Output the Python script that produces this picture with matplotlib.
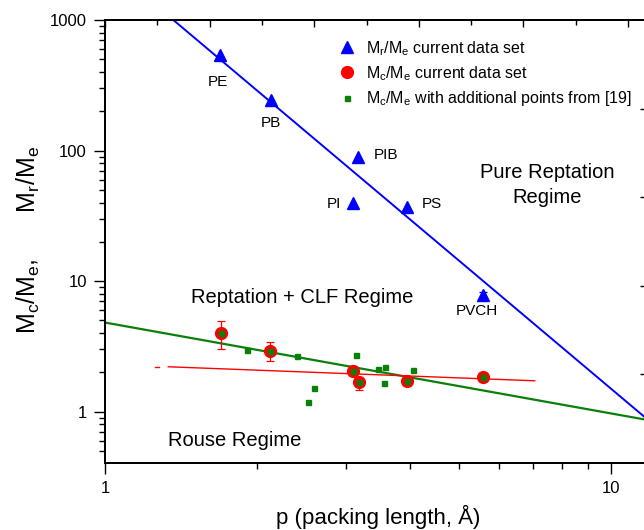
import matplotlib
matplotlib.use('Agg')
import matplotlib.pyplot as plt
from matplotlib.ticker import FixedLocator, NullFormatter, FuncFormatter, LogLocator, MultipleLocator

plt.rcParams['font.family'] = ['Liberation Sans', 'DejaVu Sans']
plt.rcParams['mathtext.fontset'] = 'custom'
plt.rcParams['mathtext.rm'] = 'Liberation Sans'
plt.rcParams['mathtext.it'] = 'Liberation Sans:italic'
plt.rcParams['mathtext.bf'] = 'Liberation Sans:bold'

# ---------------- data ----------------
polymer_names = ['PE', 'PB', 'PIB', 'PI', 'PS', 'PVCH']
mr_p = [1.688, 2.126, 3.167, 3.096, 3.947, 5.577]
mr_y = [539, 244, 88.9, 39.9, 37.2, 7.86]
mr_err = [25, 12, 5, 2.5, 2.0, 0.45]
mr_has_cap = [False, False, False, False, False, True]

mc_p = [1.693, 2.12, 3.096, 3.17, 3.95, 5.58]
mc_y = [4.0, 2.94, 2.06, 1.69, 1.72, 1.83]
mc_err_lo = [0.98, 0.51, 0.17, 0.22, 0.05, 0.05]
mc_err_hi = [0.94, 0.47, 0.19, 0.12, 0.05, 0.05]

add_p = [1.693, 2.12, 3.096, 3.17, 3.95, 5.58,
         1.906, 2.396, 3.13, 3.46, 3.57, 3.56, 4.06, 2.585, 2.52]
add_y = [4.0, 2.94, 2.06, 1.69, 1.72, 1.83,
         2.97, 2.65, 2.73, 2.13, 2.2, 1.65, 2.07, 1.51, 1.19]

blue_fit_p = [1.3, 12.0]
blue_fit_y = [1172, 0.828]
green_fit_p = [1.0, 12.0]
green_fit_y = [4.82, 0.855]
red_fit_p = [1.334, 7.07]
red_fit_y = [2.21, 1.726]
red_dash_p = [1.255, 1.28]
red_dash_y = [2.22, 2.22]

legend_labels = [r'$\mathregular{M_r/M_e}$ current data set',
                 r'$\mathregular{M_c/M_e}$ current data set',
                 r'$\mathregular{M_c/M_e}$ with additional points from [19]']

# label offsets (pixels) relative to triangles
label_dx = [-2, 0, 28, -19, 25, -6]
label_dy = [-27, -23, 2, -1, 3, -16]

W, H = 644, 530
fig = plt.figure(figsize=(W / 100, H / 100), dpi=100)
L, R, T, B = 105, 646, 20, 463
ax = fig.add_axes([L / W, (H - B) / H, (R - L) / W, (B - T) / H])
ax.set_xscale('log')
ax.set_yscale('log')
ax.set_xlim(1, 10 ** ((R - L) / 506))
ax.set_ylim(0.405, 1000)

BLUE = '#0000FF'
RED = '#FF0000'
GREEN = '#0A800A'

# fit lines
ax.plot(blue_fit_p, blue_fit_y, color=BLUE, lw=1.4, zorder=2)
ax.plot(green_fit_p, green_fit_y, color=GREEN, lw=1.6, zorder=2)
ax.plot(red_fit_p, red_fit_y, color=RED, lw=1.0, zorder=2)
ax.plot(red_dash_p, red_dash_y, color=RED, lw=1.0, zorder=2)

# red error bars + circles
ax.errorbar(mc_p, mc_y, yerr=[mc_err_lo, mc_err_hi], fmt='none', ecolor=RED,
            elinewidth=0.9, capsize=3, capthick=0.9, zorder=2.5)
h_red, = ax.plot(mc_p, mc_y, 'o', color=RED, ms=8.5, mec=RED, ls='none', zorder=3)
# green squares
h_green, = ax.plot(add_p, add_y, 's', color=GREEN, ms=3.6, mec=GREEN, ls='none', zorder=4)
# blue triangles with small error bars
for px, py, e, cap in zip(mr_p, mr_y, mr_err, mr_has_cap):
    ax.errorbar([px], [py], yerr=[e], fmt='none', ecolor=BLUE, elinewidth=0.9,
                capsize=3 if cap else 0, capthick=0.9, zorder=3.5)
h_blue, = ax.plot(mr_p, mr_y, '^', color=BLUE, ms=9, mec=BLUE, ls='none', zorder=4)

for name, px, py, dx, dy in zip(polymer_names, mr_p, mr_y, label_dx, label_dy):
    ax.annotate(name, (px, py), xytext=(dx * 0.72, dy * 0.72), textcoords='offset points',
                ha='center', va='center', fontsize=11)

# regime texts (pixel positions -> axes fraction)
def af(px, py):
    return ((px - L) / (R - L), (B - py) / (B - T))

ax.text(*af(547, 178.3), 'Pure Reptation', transform=ax.transAxes, ha='center',
        va='baseline', fontsize=14.5)
ax.text(*af(547, 203), 'Regime', transform=ax.transAxes, ha='center',
        va='baseline', fontsize=14.5)
ax.text(*af(413, 303), 'Reptation + CLF Regime', transform=ax.transAxes, ha='right',
        va='baseline', fontsize=14.5)
ax.text(*af(168, 445.7), 'Rouse Regime', transform=ax.transAxes, ha='left',
        va='baseline', fontsize=14.5)

# ticks
fmt = FuncFormatter(lambda v, pos: f'{v:g}')
ax.xaxis.set_major_locator(LogLocator(base=10, numticks=10))
ax.xaxis.set_minor_locator(LogLocator(base=10, subs=range(2, 10), numticks=20))
ax.yaxis.set_major_locator(LogLocator(base=10, numticks=10))
ax.yaxis.set_minor_locator(LogLocator(base=10, subs=range(2, 10), numticks=20))
ax.xaxis.set_major_formatter(fmt)
ax.yaxis.set_major_formatter(fmt)
ax.xaxis.set_minor_formatter(NullFormatter())
ax.yaxis.set_minor_formatter(NullFormatter())
ax.tick_params(which='major', direction='out', length=8, width=1.0, labelsize=12, pad=5,
               top=False, right=False)
ax.tick_params(which='minor', direction='out', length=4.5, width=1.0, top=False, right=False)

for s in ax.spines.values():
    s.set_linewidth(1.3)

# right twin (linear, inward ticks)
axr = ax.twinx()
axr.set_ylim(0, 1)
axr.yaxis.set_major_locator(FixedLocator([0.2, 0.4, 0.6, 0.8]))
axr.tick_params(axis='y', direction='in', length=4, width=1.0, labelright=False)
for s in axr.spines.values():
    s.set_linewidth(1.3)

# top twin (linear, inward ticks)
axt = ax.twiny()
axt.set_xscale('linear')
axt.set_xlim(0, (R - L) / 523)
axt.xaxis.set_major_locator(MultipleLocator(0.2))
axt.xaxis.set_minor_locator(MultipleLocator(0.1))
axt.tick_params(axis='x', which='major', direction='in', length=5, width=1.0, labeltop=False)
axt.tick_params(axis='x', which='minor', direction='in', length=3.5, width=1.0, labeltop=False)
for s in axt.spines.values():
    s.set_linewidth(1.3)

# legend
leg = ax.legend([h_blue, h_red, h_green], legend_labels, frameon=False, fontsize=11.5,
                loc='upper left', bbox_to_anchor=(339 / W, 1 - 39 / H),
                bbox_transform=fig.transFigure, borderaxespad=0, borderpad=0,
                handlelength=1.0, handletextpad=0.7, labelspacing=0.4, numpoints=1)
leg.set_zorder(10)

fig.text(378 / W, 1 - 524 / H, 'p (packing length, Å)', ha='center', va='baseline', fontsize=16)
fig.text(28 / W, 1 - 240 / H, r'$\mathregular{M_c/M_e,}$      $\mathregular{M_r/M_e}$',
         rotation=90, ha='center', va='center', fontsize=18)

fig.savefig('out.png', dpi=100)
